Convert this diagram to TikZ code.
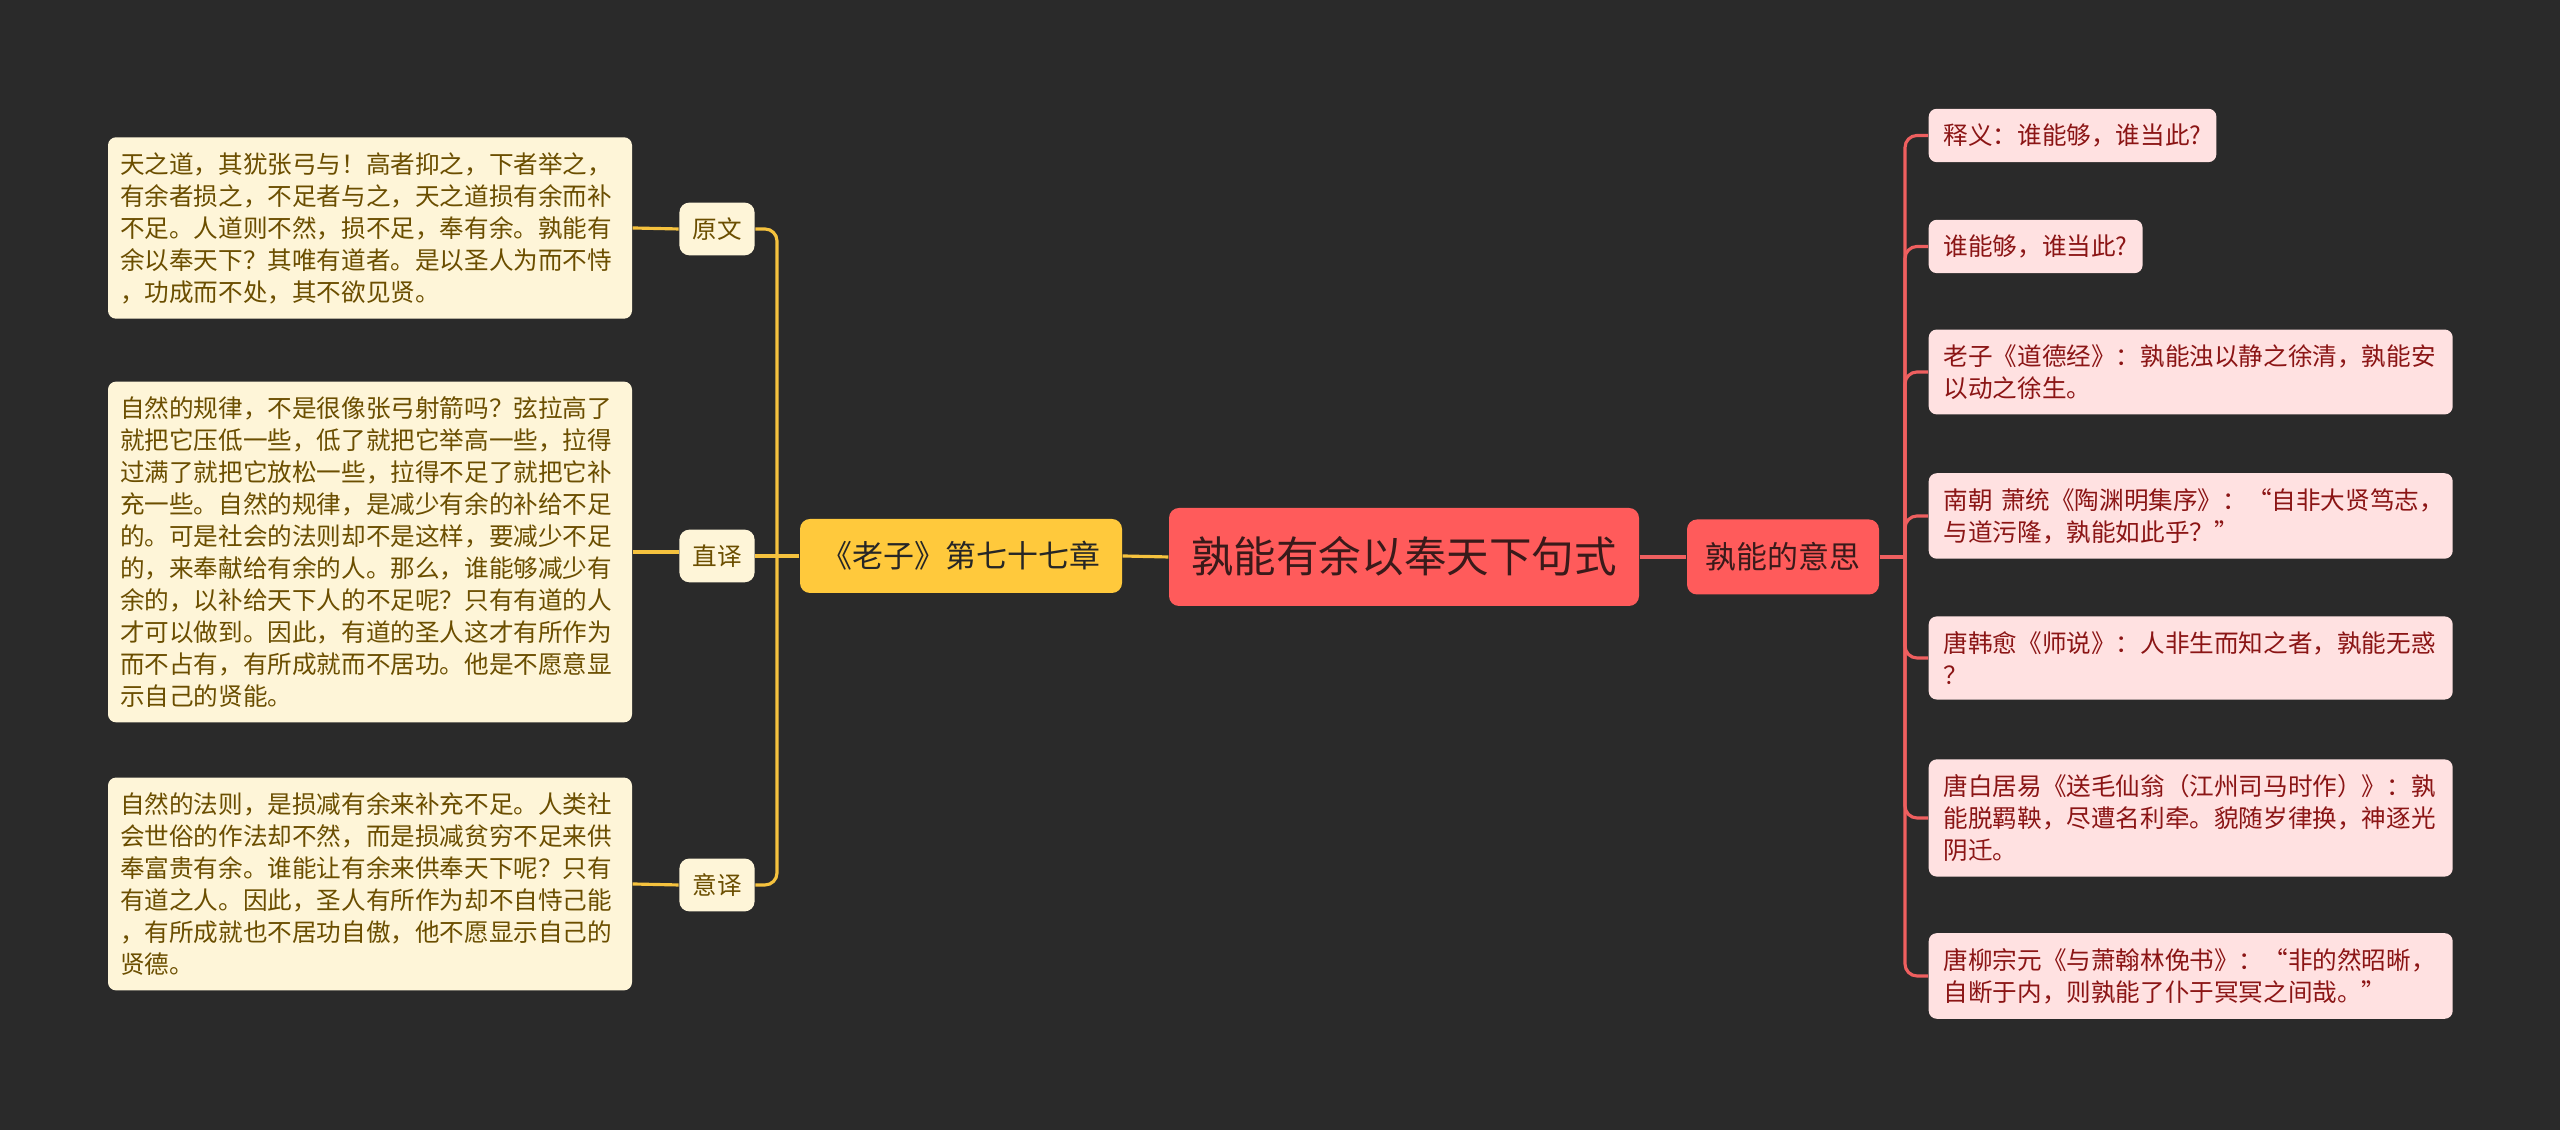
\documentclass[tikz,border=0pt]{standalone}
\usepackage{fontspec}
\setmainfont{Noto Sans CJK SC}
\usepackage{tikz}

\definecolor{bgdark}{HTML}{2A2A2A}
\definecolor{creamfill}{HTML}{FEF5D8}
\definecolor{browntext}{HTML}{6B4E00}
\definecolor{goldfill}{HTML}{FFC93C}
\definecolor{goldline}{HTML}{F5C23E}
\definecolor{corefill}{HTML}{FF5B5B}
\definecolor{coretext}{HTML}{3A1A1A}
\definecolor{pinkfill}{HTML}{FFE1E1}
\definecolor{redtext}{HTML}{8B1515}
\definecolor{redline}{HTML}{EF5F5F}

\begin{document}
\begin{tikzpicture}[
  textbox/.style={rounded corners=0.08cm, inner xsep=0.12cm, inner ysep=0.15cm, align=left, font=\fontsize{7}{9.1}\selectfont},
  creambox/.style={textbox, fill=creamfill, text=browntext, text width=5.0cm},
  tagbox/.style={rounded corners=0.1cm, fill=creamfill, text=browntext, inner xsep=0.13cm, inner ysep=0.15cm, font=\fontsize{7}{9.1}\selectfont},
  pinkbox/.style={textbox, fill=pinkfill, text=redtext, anchor=west, inner xsep=0.15cm},
  widepink/.style={pinkbox, text width=4.94cm},
  goldlink/.style={draw=goldline, line width=0.9pt, rounded corners=0.12cm},
  redlink/.style={draw=redline, line width=0.9pt, rounded corners=0.12cm}]

\fill[bgdark] (0,0) rectangle (25.6,11.3);
\useasboundingbox (0,0) rectangle (25.6,11.3);

\node[fill=corefill, text=coretext, rounded corners=0.1cm, minimum width=4.70cm, minimum height=0.98cm, inner sep=0pt, font=\fontsize{12.1}{14}\selectfont] (root) at (14.04,5.73) {孰能有余以奉天下句式};
\node[fill=goldfill, text=black!85, rounded corners=0.1cm, minimum width=3.22cm, minimum height=0.74cm, inner sep=0pt, font=\fontsize{8.8}{10}\selectfont] (laozi) at (9.61,5.74) {《老子》第七十七章};
\node[fill=corefill, text=coretext, rounded corners=0.1cm, minimum width=1.92cm, minimum height=0.75cm, inner sep=0pt, font=\fontsize{8.8}{10}\selectfont] (yisi) at (17.83,5.73) {孰能的意思};

\node[tagbox] (yuanwen) at (7.17,9.01) {原文};
\node[tagbox] (zhiyi) at (7.17,5.74) {直译};
\node[tagbox] (yiyi) at (7.17,2.45) {意译};

\node[creambox] (ywtext) at (3.70,9.02) {天之道，其犹张弓与！高者抑之，下者举之，\\有余者损之，不足者与之，天之道损有余而补\\不足。人道则不然，损不足，奉有余。孰能有\\余以奉天下？其唯有道者。是以圣人为而不恃\\，功成而不处，其不欲见贤。};
\node[creambox] (zytext) at (3.70,5.78) {自然的规律，不是很像张弓射箭吗？弦拉高了\\就把它压低一些，低了就把它举高一些，拉得\\过满了就把它放松一些，拉得不足了就把它补\\充一些。自然的规律，是减少有余的补给不足\\的。可是社会的法则却不是这样，要减少不足\\的，来奉献给有余的人。那么，谁能够减少有\\余的，以补给天下人的不足呢？只有有道的人\\才可以做到。因此，有道的圣人这才有所作为\\而不占有，有所成就而不居功。他是不愿意显\\示自己的贤能。};
\node[creambox] (yytext) at (3.70,2.46) {自然的法则，是损减有余来补充不足。人类社\\会世俗的作法却不然，而是损减贫穷不足来供\\奉富贵有余。谁能让有余来供奉天下呢？只有\\有道之人。因此，圣人有所作为却不自恃己能\\，有所成就也不居功自傲，他不愿显示自己的\\贤德。};

\node[pinkbox] (shiyi) at (19.28,9.945) {释义：谁能够，谁当此?};
\node[pinkbox] (shuinenggou) at (19.28,8.835) {谁能够，谁当此?};
\node[widepink] (daodejing) at (19.28,7.58) {老子《道德经》：孰能浊以静之徐清，孰能安\\以动之徐生。};
\node[widepink] (xiaotong) at (19.28,6.14) {\mbox{南朝 萧统《陶渊明集序》：“自非大贤笃志，}\\与道污隆，孰能如此乎？”};
\node[widepink] (hanyu) at (19.28,4.72) {唐韩愈《师说》：人非生而知之者，孰能无惑\\？};
\node[widepink] (baijuyi) at (19.28,3.12) {唐白居易《送毛仙翁（江州司马时作）》：孰\\能脱羁鞅，尽遭名利牵。貌随岁律换，神逐光\\阴迁。};
\node[widepink] (liuzongyuan) at (19.28,1.54) {唐柳宗元《与萧翰林俛书》：“非的然昭晰，\\自断于内，则孰能了仆于冥冥之间哉。”};

\coordinate (leftjoin) at (7.77,5.74);
\coordinate (rightjoin) at (19.05,5.73);

\draw[goldlink] (root.west) -- (laozi.east);
\draw[goldlink] (laozi.west) -- (leftjoin);
\draw[goldlink] (yuanwen.east) -| (leftjoin);
\draw[goldlink] (zhiyi.east) -- (leftjoin);
\draw[goldlink] (yiyi.east) -| (leftjoin);
\draw[goldlink] (ywtext.east) -- (yuanwen.west);
\draw[goldlink] (zytext.east) -- (zytext.east -| zhiyi.west);
\draw[goldlink] (yytext.east) -- (yiyi.west);

\draw[redlink] (root.east) -- (yisi.west);
\draw[redlink] (yisi.east) -- (rightjoin);
\draw[redlink] (rightjoin) |- (shiyi.west);
\draw[redlink] (rightjoin) |- (shuinenggou.west);
\draw[redlink] (rightjoin) |- (daodejing.west);
\draw[redlink] (rightjoin) |- (xiaotong.west);
\draw[redlink] (rightjoin) |- (hanyu.west);
\draw[redlink] (rightjoin) |- (baijuyi.west);
\draw[redlink] (rightjoin) |- (liuzongyuan.west);
\end{tikzpicture}
\end{document}
